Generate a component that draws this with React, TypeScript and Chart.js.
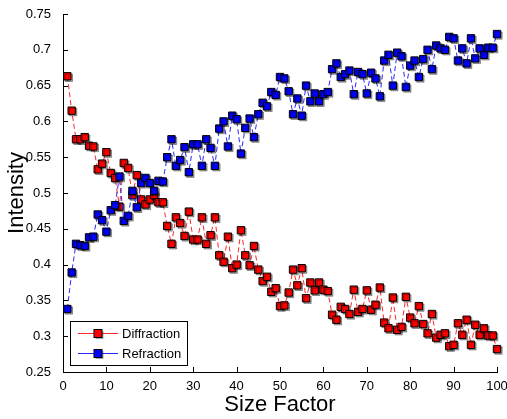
import { useEffect, useRef } from "react";
import { Chart, registerables } from "chart.js";

Chart.register(...registerables);

const FONT = "'Liberation Sans', Arial, Helvetica, sans-serif";

const sizeFactor = [
  1, 2, 3, 4, 5, 6, 7, 8, 9, 10, 11, 12, 13, 14, 15, 16, 17, 18, 19, 20,
  21, 22, 23, 24, 25, 26, 27, 28, 29, 30, 31, 32, 33, 34, 35, 36, 37, 38, 39, 40,
  41, 42, 43, 44, 45, 46, 47, 48, 49, 50, 51, 52, 53, 54, 55, 56, 57, 58, 59, 60,
  61, 62, 63, 64, 65, 66, 67, 68, 69, 70, 71, 72, 73, 74, 75, 76, 77, 78, 79, 80,
  81, 82, 83, 84, 85, 86, 87, 88, 89, 90, 91, 92, 93, 94, 95, 96, 97, 98, 99, 100,
];

const diffraction = [
  0.663, 0.615, 0.575, 0.575, 0.578, 0.566, 0.565, 0.533, 0.541, 0.557,
  0.528, 0.521, 0.481, 0.542, 0.535, 0.497, 0.525, 0.491, 0.484, 0.491,
  0.497, 0.487, 0.487, 0.454, 0.429, 0.466, 0.458, 0.44, 0.474, 0.435,
  0.435, 0.466, 0.429, 0.441, 0.466, 0.413, 0.404, 0.439, 0.395, 0.4,
  0.448, 0.413, 0.399, 0.426, 0.393, 0.377, 0.383, 0.362, 0.367, 0.342,
  0.343, 0.361, 0.393, 0.371, 0.395, 0.353, 0.375, 0.364, 0.375, 0.365,
  0.363, 0.33, 0.323, 0.341, 0.338, 0.331, 0.365, 0.334, 0.338, 0.364,
  0.337, 0.344, 0.368, 0.319, 0.311, 0.354, 0.309, 0.313, 0.355, 0.326,
  0.318, 0.342, 0.317, 0.304, 0.331, 0.298, 0.302, 0.304, 0.286, 0.288,
  0.318, 0.302, 0.323, 0.288, 0.316, 0.302, 0.311, 0.301, 0.301, 0.282,
];

const refraction = [
  0.338, 0.389, 0.429, 0.427, 0.426, 0.438, 0.439, 0.47, 0.462, 0.446,
  0.476, 0.483, 0.523, 0.461, 0.468, 0.503, 0.48, 0.514, 0.521, 0.514,
  0.503, 0.517, 0.516, 0.55, 0.575, 0.538, 0.546, 0.564, 0.529, 0.568,
  0.568, 0.538, 0.575, 0.563, 0.538, 0.59, 0.6, 0.565, 0.608, 0.603,
  0.555, 0.591, 0.604, 0.578, 0.61, 0.626, 0.621, 0.641, 0.637, 0.662,
  0.66, 0.642, 0.61, 0.632, 0.608, 0.65, 0.628, 0.639, 0.628, 0.638,
  0.641, 0.673, 0.681, 0.662, 0.666, 0.671, 0.638, 0.669, 0.666, 0.639,
  0.668, 0.66, 0.635, 0.685, 0.693, 0.65, 0.696, 0.691, 0.648, 0.678,
  0.685, 0.662, 0.687, 0.7, 0.673, 0.706, 0.702, 0.7, 0.718, 0.716,
  0.685, 0.702, 0.681, 0.716, 0.688, 0.702, 0.693, 0.703, 0.703, 0.722,
];

const xTicks = [0, 10, 20, 30, 40, 50, 60, 70, 80, 90, 100];
const yTicks = [0.25, 0.3, 0.35, 0.4, 0.45, 0.5, 0.55, 0.6, 0.65, 0.7, 0.75];
const yTickLabels = ["0.25", "0.3", "0.35", "0.4", "0.45", "0.5", "0.55", "0.6", "0.65", "0.7", "0.75"];

const seriesNames = ["Diffraction", "Refraction"];
const seriesColors = ["#ff0000", "#0000ff"];
const lineColors = ["rgba(255,30,30,0.95)", "rgba(30,30,255,0.95)"];

const toPoints = (ys: number[]) => ys.map((y, i) => ({ x: sizeFactor[i], y }));

const innerTicks = {
  id: "innerTicks",
  afterDraw(chart: any) {
    const { ctx, chartArea, scales } = chart;
    ctx.save();
    ctx.strokeStyle = "#000";
    ctx.lineWidth = 1;
    ctx.beginPath();
    scales.x.ticks.forEach((t: any) => {
      const px = Math.round(scales.x.getPixelForValue(t.value)) + 0.5;
      ctx.moveTo(px, chartArea.bottom);
      ctx.lineTo(px, chartArea.bottom - 5);
    });
    scales.y.ticks.forEach((t: any) => {
      const py = Math.round(scales.y.getPixelForValue(t.value)) + 0.5;
      ctx.moveTo(chartArea.left, py);
      ctx.lineTo(chartArea.left + 5, py);
    });
    ctx.stroke();
    ctx.restore();
  },
};

const markerShadow = {
  id: "markerShadow",
  beforeDatasetDraw(chart: any, args: any) {
    const ds = chart.data.datasets[args.index];
    chart.ctx.save();
    if (ds._markers) {
      chart.ctx.shadowColor = "rgba(0,0,0,0.35)";
      chart.ctx.shadowOffsetX = 1.5;
      chart.ctx.shadowOffsetY = 1.5;
      chart.ctx.shadowBlur = 0;
    }
  },
  afterDatasetDraw(chart: any) {
    chart.ctx.restore();
  },
};

const boxLegend = {
  id: "boxLegend",
  afterDraw(chart: any) {
    const { ctx, chartArea } = chart;
    const bx = chartArea.left + 7;
    const bw = 117;
    const bh = 44;
    const by = chartArea.bottom - 7 - bh;
    ctx.save();
    ctx.fillStyle = "#fff";
    ctx.fillRect(bx, by, bw, bh);
    ctx.strokeStyle = "#000";
    ctx.lineWidth = 1;
    ctx.strokeRect(Math.round(bx) + 0.5, Math.round(by) + 0.5, bw, bh);
    seriesNames.forEach((name, i) => {
      const cy = Math.round(by + 12 + i * 20) + 0.5;
      ctx.strokeStyle = lineColors[i];
      ctx.lineWidth = 1;
      ctx.beginPath();
      ctx.moveTo(bx + 8, cy);
      ctx.lineTo(bx + 48, cy);
      ctx.stroke();
      const mx = bx + 28;
      ctx.fillStyle = "rgba(0,0,0,0.35)";
      ctx.fillRect(mx - 4 + 1.5, cy - 4 + 1.5, 8, 8);
      ctx.fillStyle = seriesColors[i];
      ctx.fillRect(mx - 4, cy - 4, 8, 8);
      ctx.strokeStyle = "#000";
      ctx.strokeRect(mx - 4, cy - 4, 8, 8);
      ctx.fillStyle = "#000";
      ctx.font = `13px ${FONT}`;
      ctx.textAlign = "left";
      ctx.textBaseline = "middle";
      ctx.fillText(name, bx + 52, cy + 1);
    });
    ctx.restore();
  },
};

export default function App() {
  const canvasRef = useRef<HTMLCanvasElement | null>(null);

  useEffect(() => {
    if (!canvasRef.current) return;
    const series = [diffraction, refraction];
    const datasets: any[] = [];
    series.forEach((ys, i) => {
      datasets.push({
        label: seriesNames[i] + " line",
        data: toPoints(ys),
        borderColor: lineColors[i],
        borderWidth: 1,
        borderDash: [5, 3],
        pointRadius: 0,
        showLine: true,
        fill: false,
        tension: 0,
        order: 4 - i * 2,
        clip: false,
      });
      datasets.push({
        label: seriesNames[i],
        data: toPoints(ys),
        showLine: false,
        pointStyle: "rect",
        pointRadius: 5.2,
        pointBorderWidth: 1,
        pointBorderColor: "#000",
        pointBackgroundColor: seriesColors[i],
        order: 3 - i * 2,
        clip: false,
        _markers: true,
      });
    });

    const chart = new Chart(canvasRef.current, {
      type: "line",
      data: { datasets },
      plugins: [markerShadow, innerTicks, boxLegend],
      options: {
        animation: false,
        responsive: false,
        devicePixelRatio: 1,
        events: [],
        layout: { padding: { top: 14, right: 10, left: 0, bottom: 0 } },
        plugins: { legend: { display: false }, tooltip: { enabled: false } },
        scales: {
          x: {
            type: "linear",
            min: 0,
            max: 100,
            afterBuildTicks: (s: any) => {
              s.ticks = xTicks.map((v) => ({ value: v }));
            },
            afterFit: (s: any) => {
              s.height = 47;
              s.paddingLeft = 0;
              s.paddingRight = 0;
            },
            grid: { display: false },
            border: { display: true, color: "#000", width: 1 },
            ticks: {
              color: "#000",
              font: { family: FONT, size: 13 },
              padding: -1,
              maxRotation: 0,
              autoSkip: false,
              callback: (v: any) => String(v),
            },
            title: {
              display: true,
              text: "Size Factor",
              color: "#000",
              font: { family: FONT, size: 22 },
              padding: { top: 0, bottom: 1 },
            },
          },
          y: {
            type: "linear",
            min: 0.25,
            max: 0.75,
            afterBuildTicks: (s: any) => {
              s.ticks = yTicks.map((v) => ({ value: v }));
            },
            afterFit: (s: any) => {
              s.width = 63;
              s.paddingTop = 0;
              s.paddingBottom = 0;
            },
            grid: { display: false },
            border: { display: true, color: "#000", width: 1 },
            ticks: {
              color: "#000",
              font: { family: FONT, size: 13 },
              padding: 4,
              autoSkip: false,
              callback: (v: any) => {
                const idx = yTicks.findIndex((t) => Math.abs(t - v) < 1e-9);
                return idx >= 0 ? yTickLabels[idx] : "";
              },
            },
            title: {
              display: true,
              text: "Intensity",
              color: "#000",
              font: { family: FONT, size: 22 },
              padding: { top: 4, bottom: 0 },
            },
          },
        },
      } as any,
    });
    return () => chart.destroy();
  }, []);

  return (
    <div style={{ position: "fixed", left: 0, top: 0, width: 507, height: 419, background: "#fff" }}>
      <canvas ref={canvasRef} width={507} height={419} style={{ display: "block", width: 507, height: 419 }} />
    </div>
  );
}
